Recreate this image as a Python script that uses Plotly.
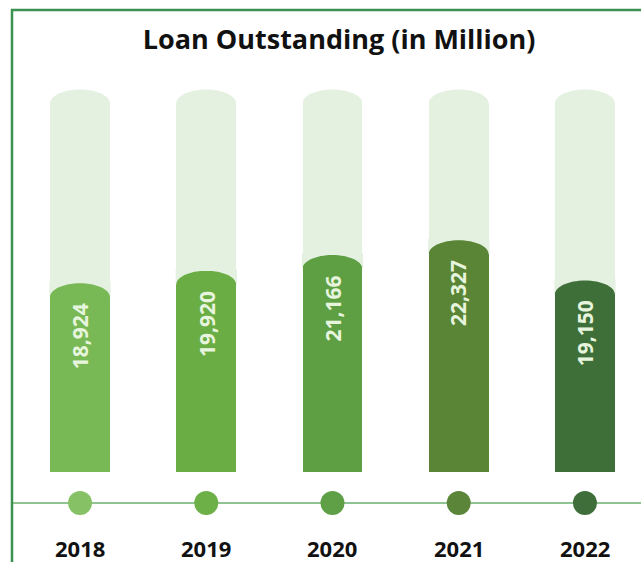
import plotly.graph_objects as go

# Loan outstanding per year (in million)
years = ["2018", "2019", "2020", "2021", "2022"]
loans = [18924, 19920, 21166, 22327, 19150]
value_labels = ["18,924", "19,920", "21,166", "22,327", "19,150"]

bar_colors = ["#79b955", "#6aad44", "#5e9f44", "#5a8536", "#3e6f39"]
dot_colors = ["#86c265", "#6cb047", "#5fa046", "#5b8538", "#3f6e3a"]

TRACK_TOP = 34250      # height of the pale background track
BAR_BASE = 4000        # value where the bars start
DOT_ROW = 1550         # level of the timeline with the dots
YEAR_ROW = -2000       # level of the year captions
Y_RANGE = [-3117, 41326]
X_RANGE = [-0.634, 4.444]

W, H = 641, 562
BAR_W = 0.475                      # bar width in x units
UNITS_PER_PX = (Y_RANGE[1] - Y_RANGE[0]) / H
CAP = 14 * UNITS_PER_PX            # height of the rounded dome
PAD = 1.5 * UNITS_PER_PX           # overlap that hides the flat bar edge
TRACK_COLOR = "#e4f1e1"
K = 0.5523                         # bezier constant for quarter ellipses

x = list(range(len(years)))

fig = go.Figure()

# pale tracks behind the bars
fig.add_trace(go.Bar(
    x=x, y=[TRACK_TOP - BAR_BASE] * len(x), base=BAR_BASE, width=BAR_W,
    marker=dict(color=TRACK_COLOR, line=dict(width=0)),
    hoverinfo="skip", showlegend=False,
))
# value bars
fig.add_trace(go.Bar(
    x=x, y=[v - BAR_BASE for v in loans], base=BAR_BASE, width=BAR_W,
    marker=dict(color=bar_colors, line=dict(width=0)),
    hovertext=value_labels, hoverinfo="text", showlegend=False,
))


def corner_paths(xc, top, fill):
    """Two corner pieces that turn a flat bar top into a dome."""
    rx = BAR_W / 2
    xl, xr = xc - rx, xc + rx
    s = top - CAP
    hi = top + PAD
    left = (f"M {xl - 0.005},{s} L {xl},{s} "
            f"C {xl},{s + K * CAP} {xc - K * rx},{top} {xc},{top} "
            f"L {xc},{hi} L {xl - 0.005},{hi} Z")
    right = (f"M {xr + 0.005},{s} L {xr},{s} "
             f"C {xr},{s + K * CAP} {xc + K * rx},{top} {xc},{top} "
             f"L {xc},{hi} L {xr + 0.005},{hi} Z")
    return [dict(type="path", path=p, xref="x", yref="y", fillcolor=fill,
                 line=dict(width=0), layer="above") for p in (left, right)]


shapes = []
for i, v in enumerate(loans):
    shapes += corner_paths(i, TRACK_TOP, "white")
    shapes += corner_paths(i, v, TRACK_COLOR)

# timeline across the bottom
shapes.append(dict(type="line", xref="paper", yref="y", x0=12 / W, x1=1.0,
                   y0=DOT_ROW, y1=DOT_ROW,
                   line=dict(color="#8fc393", width=2), layer="below"))
# frame on the left and top
shapes.append(dict(type="path", xref="paper", yref="paper",
                   path=f"M {12 / W},0 L {12 / W},{1 - 10 / H} L 1.01,{1 - 10 / H}",
                   line=dict(color="#3a9150", width=2.5)))

fig.add_trace(go.Scatter(
    x=x, y=[DOT_ROW] * len(x), mode="markers",
    marker=dict(size=24, color=dot_colors, line=dict(width=0)),
    hoverinfo="skip", showlegend=False, cliponaxis=False,
))

annotations = []
for i, (v, lab) in enumerate(zip(loans, value_labels)):
    annotations.append(dict(
        x=i, y=v, xref="x", yref="y", text=lab, textangle=-90,
        showarrow=False, yanchor="top", yshift=-18,
        font=dict(family="Open Sans", size=21, color="#e8f5de", weight=700),
    ))
for i, yr in enumerate(years):
    annotations.append(dict(
        x=i, y=YEAR_ROW, xref="x", yref="y", text=f"<b>{yr}</b>",
        showarrow=False,
        font=dict(family="Open Sans", size=22, color="#111111"),
    ))

fig.update_layout(
    width=W, height=H,
    margin=dict(l=0, r=0, t=0, b=0),
    paper_bgcolor="white", plot_bgcolor="white",
    barmode="overlay", bargap=0,
    title=dict(text="<b>Loan Outstanding (in Million)</b>",
               x=0.529, xanchor="center", y=1 - 40 / H, yanchor="middle",
               font=dict(family="Open Sans", size=27, color="#111111")),
    xaxis=dict(range=X_RANGE, visible=False, fixedrange=True),
    yaxis=dict(range=Y_RANGE, visible=False, fixedrange=True),
    shapes=shapes,
    annotations=annotations,
)

fig.write_html("out.html")
